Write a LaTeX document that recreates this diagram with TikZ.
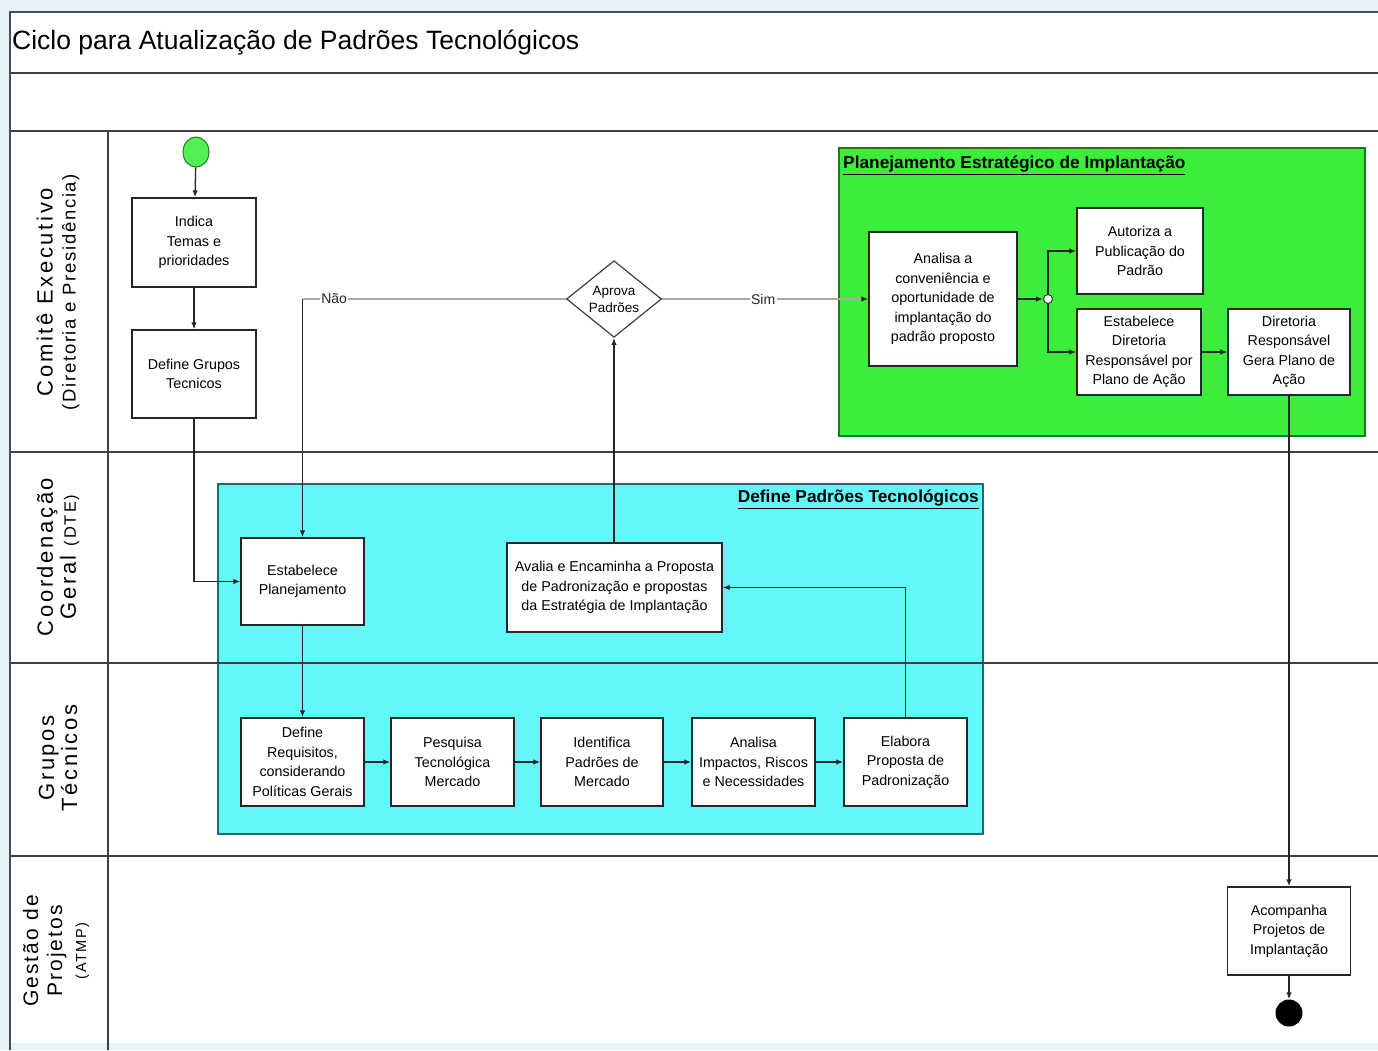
\documentclass[tikz,border=0pt]{standalone}
\usepackage{fontspec}
\setmainfont{Liberation Sans}
\usetikzlibrary{shapes.geometric,arrows.meta}
\definecolor{bgc}{HTML}{E6F3F8}
\definecolor{framec}{HTML}{3F4D60}
\definecolor{cyanf}{HTML}{63F7F7}
\definecolor{cyanb}{HTML}{1F6A6A}
\definecolor{greenf}{HTML}{3CEE3C}
\definecolor{greenb}{HTML}{1A7A1A}
\definecolor{startg}{HTML}{55EE55}
\definecolor{greyc}{HTML}{A8A8A8}
\pgfdeclarelayer{bg}
\pgfsetlayers{bg,main}
\begin{document}
\begin{tikzpicture}[x=1pt,y=-1pt,
  box/.style={draw=black!85, fill=white, line width=1.4pt, align=center, inner sep=0pt,
    font=\fontsize{14.3}{19.5}\selectfont, minimum width=123pt, minimum height=88pt},
  arr/.style={-{Latex[length=7pt,width=5.5pt]}, line width=1.3pt, draw=black!85},
  gline/.style={line width=1.8pt, draw=greyc},
  garr/.style={-{Latex[length=7pt,width=5.5pt,color=black!85]}, line width=1.8pt, draw=greyc},
  lane/.style={line width=1.6pt, draw=black!75},
  lanelab/.style={rotate=90, align=center, inner sep=0pt,
    font=\fontsize{22}{23}\selectfont\addfontfeature{LetterSpace=12}},
  grouptitle/.style={inner sep=1pt, font=\fontsize{17.3}{19}\selectfont\bfseries},
  lbl/.style={fill=white, inner sep=1.5pt, text=black!85, font=\fontsize{14}{15}\selectfont}
]
\useasboundingbox (0,0) rectangle (1378,1050);

% ---------- nodes ----------
\node[anchor=west, inner sep=0pt, font=\fontsize{26.5}{30}\selectfont] (title) at (12,43) {Ciclo para Atualização de Padrões Tecnológicos};

\node[lanelab] (l1) at (58,292) {Comitê Executivo\\{\fontsize{18.5}{23}\selectfont\addfontfeature{LetterSpace=9}(Diretoria e Presidência)}};
\node[lanelab] (l2) at (58,557) {Coordenação\\Geral {\fontsize{16.5}{23}\selectfont(DTE)}};
\node[lanelab] (l3) at (58,758) {Grupos\\Técnicos};
\node[lanelab, font=\fontsize{21}{24}\selectfont\addfontfeature{LetterSpace=10}] (l4) at (56,951) {Gestão de\\Projetos\\{\fontsize{14.5}{19}\selectfont(ATMP)}};

\node[ellipse, draw=greenb, fill=startg, line width=1pt, minimum width=26pt, minimum height=30pt, inner sep=0pt] (s) at (196,152) {};
\node[box, minimum width=124pt, minimum height=89pt] (ind) at (194,242.5) {Indica\\Temas e\\prioridades};
\node[box, minimum width=124pt] (dg) at (194,374) {Define Grupos\\Tecnicos};

\node[diamond, draw=black!75, fill=white, line width=1.2pt, minimum width=95pt, minimum height=75pt,
  inner sep=0pt, align=center, font=\fontsize{13.5}{17}\selectfont] (d) at (614,299) {Aprova\\Padrões};

\node[box, minimum width=148pt, minimum height=134pt] (an) at (943,299) {Analisa a\\conveniência e\\oportunidade de\\implantação do\\padrão proposto};
\node[circle, draw=black!80, fill=white, line width=1pt, minimum size=9pt, inner sep=0pt] (j) at (1048,299) {};
\node[box, minimum width=126pt, minimum height=86pt] (au) at (1140,251) {Autoriza a\\Publicação do\\Padrão};
\node[box, minimum width=124pt, minimum height=86pt] (ed) at (1139,352) {Estabelece\\Diretoria\\Responsável por\\Plano de Ação};
\node[box, minimum width=122pt, minimum height=86pt] (dr) at (1289,352) {Diretoria\\Responsável\\Gera Plano de\\Ação};

\node[box, minimum height=87pt] (ep) at (302.5,581.5) {Estabelece\\Planejamento};
\node[box, minimum width=215pt, minimum height=89pt] (av) at (614.5,587.5) {Avalia e Encaminha a Proposta\\de Padronização e propostas\\da Estratégia de Implantação};

\node[box] (dq) at (302.5,762) {Define\\Requisitos,\\considerando\\Políticas Gerais};
\node[box] (pq) at (452.5,762) {Pesquisa\\Tecnológica\\Mercado};
\node[box, minimum width=122pt] (id) at (602,762) {Identifica\\Padrões de\\Mercado};
\node[box] (ai) at (753.5,762) {Analisa\\Impactos, Riscos\\e Necessidades};
\node[box] (el) at (905.5,762) {Elabora\\Proposta de\\Padronização};

\node[box] (ac) at (1289,931) {Acompanha\\Projetos de\\Implantação};
\node[circle, fill=black, minimum size=27pt, inner sep=0pt] (e) at (1289,1013) {};

% ---------- background layer ----------
\begin{pgfonlayer}{bg}
  \fill[bgc] (0,0) rectangle (1378,1050);
  \fill[white] (10,12) rectangle (1378,1043);
  \draw[fill=greenf, draw=greenb, line width=1.4pt] (839,148) rectangle (1365,436);
  \node[grouptitle, anchor=north west] (gt1) at (842,155) {\underline{Planejamento Estratégico de Implantação}};
  \draw[fill=cyanf, draw=cyanb, line width=1.4pt] (218,484) rectangle (983,834);
  \node[grouptitle, anchor=north east] (gt2) at (980,489) {\underline{Define Padrões Tecnológicos}};
  \draw[lane] (10,73) -- (1378,73);
  \draw[lane] (10,131) -- (1378,131);
  \draw[lane] (10,452) -- (1378,452);
  \draw[lane] (10,663) -- (1378,663);
  \draw[lane] (10,856) -- (1378,856);
  \draw[lane] (108,131) -- (108,1050);
  \draw[line width=2.6pt, draw=framec] (10,1050) -- (10,12) -- (1378,12);
\end{pgfonlayer}

% ---------- connectors ----------
\draw[arr] (s) -- (ind);
\draw[arr] (ind) -- (dg);
\draw[arr] (dg.south) |- (ep.west);
\coordinate (nc) at (ep.north |- d.west);
\draw[gline] (d.west) -- node[lbl, pos=0.88] {Não} (nc);
\draw[arr] (nc) -- (ep.north);
\draw[garr] (d.east) -- node[lbl, pos=0.49] {Sim} (an.west);
\draw[arr] (an.east) -- (j.west);
\draw[arr] (j.north) |- (au.west);
\draw[arr] (j.south) |- (ed.west);
\draw[arr] (ed) -- (dr);
\draw[arr] (dr.south) -- (ac.north);
\draw[arr] (ac.south) -- (e.north);
\draw[arr] (d.south |- av.north) -- (d.south);
\draw[arr] (el.north) |- (av.east);
\draw[arr] (ep.south) -- (dq.north);
\draw[arr] (dq) -- (pq);
\draw[arr] (pq) -- (id);
\draw[arr] (id) -- (ai);
\draw[arr] (ai) -- (el);
\end{tikzpicture}
\end{document}
